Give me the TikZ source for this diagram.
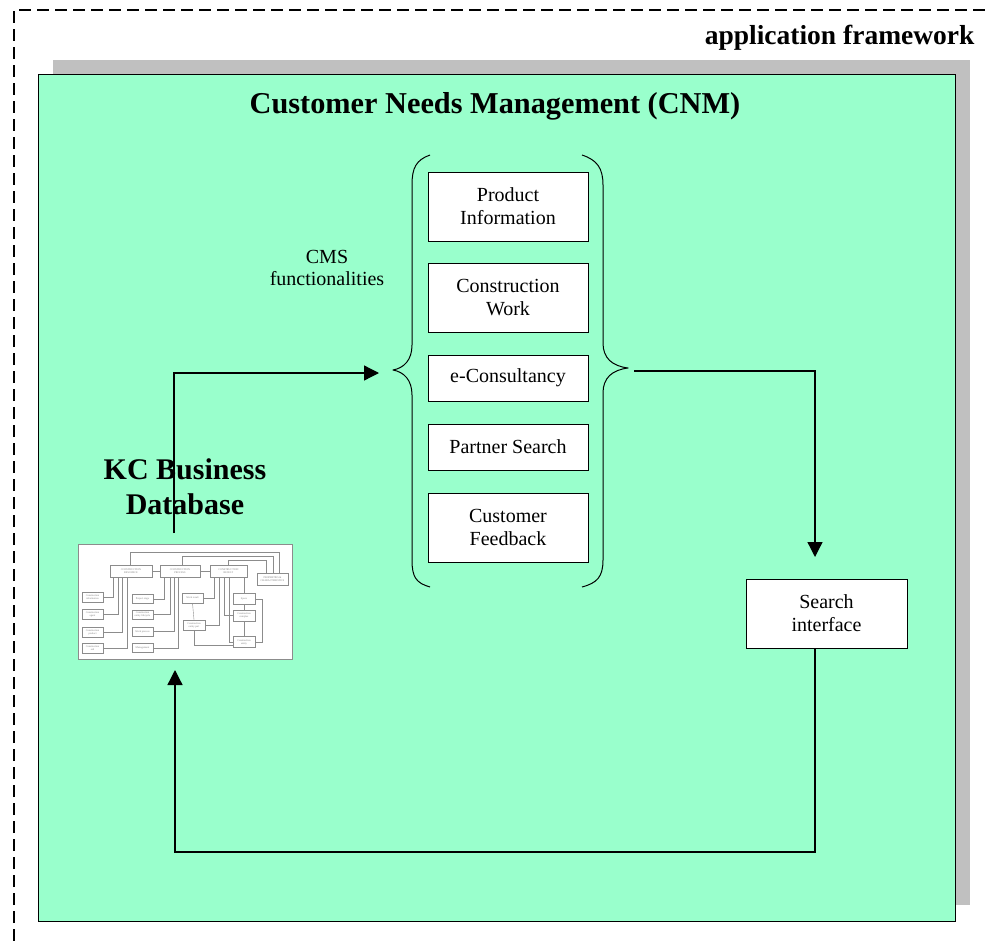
\documentclass[tikz,border=0pt]{standalone}
\usepackage{fontspec}
\setmainfont{Liberation Serif}
\usetikzlibrary{arrows.meta}
\definecolor{mint}{RGB}{153,255,204}
\definecolor{shadowgray}{RGB}{192,192,192}
\definecolor{thumbline}{RGB}{140,140,140}
\begin{document}
\begin{tikzpicture}[x=1pt,y=-1pt,
  func/.style={draw=black, fill=white, line width=0.8pt, minimum width=160pt,
    inner sep=0pt, align=center, font=\fontsize{20}{23}\selectfont},
  conn/.style={line width=1.3pt, -{Triangle[length=15pt,width=15pt]}},
  bracepath/.style={line width=1pt, line join=round},
  tb/.style={draw=thumbline, line width=0.4pt, fill=white, inner sep=0pt,
    align=center, text=gray, font=\fontsize{2.6}{3}\selectfont},
  tl/.style={draw=thumbline, line width=0.4pt},
]
\useasboundingbox (0,0) rectangle (990,941);
\fill[white] (0,0) rectangle (990,941);

% outer application framework (open dashed frame)
\draw[line width=1.2pt, dash pattern=on 12pt off 6pt] (14,941) -- (14,10) -- (990,10);
\node[anchor=base east, font=\bfseries\fontsize{27.5}{30}\selectfont] (appfw) at (978,45) {application framework};

% CNM panel with shadow
\fill[shadowgray] (53,60) rectangle (970,905);
\draw[fill=mint, line width=1pt] (38,75) rectangle (955,921);
\node[anchor=base, font=\bfseries\fontsize{30.3}{34}\selectfont] (title) at (495,114) {Customer Needs Management (CNM)};

% CMS functionality boxes
\node[func, minimum height=69pt] (prod) at (508,206.5) {Product\\Information};
\node[func, minimum height=69pt] (work) at (508,297.5) {Construction\\Work};
\node[func, minimum height=46pt] (econ) at (508,378) {e-Consultancy};
\node[func, minimum height=46pt] (partner) at (508,447) {Partner Search};
\node[func, minimum height=69pt] (feedback) at (508,527.5) {Customer\\Feedback};

\node[align=center, font=\fontsize{20}{22}\selectfont] (cms) at (327,268) {CMS\\functionalities};

% braces
\coordinate (lbtipc) at (393,370);
\coordinate (rbtipc) at (628,368);
\draw[bracepath] (430,155) .. controls (416,160) and (412,168) .. (412,185)
  -- (412,345) .. controls (412,360) and (404,368) .. (lbtipc)
  .. controls (404,372) and (412,380) .. (412,395)
  -- (412,560) .. controls (412,577) and (416,583) .. (430,587);
\draw[bracepath] (582,155) .. controls (597,160) and (603,168) .. (603,185)
  -- (603,343) .. controls (603,358) and (612,366) .. (rbtipc)
  .. controls (612,370) and (603,378) .. (603,393)
  -- (603,560) .. controls (603,577) and (597,583) .. (582,587);

% search interface
\node[func, minimum width=161pt, minimum height=69pt] (search) at (826.5,613.5) {Search\\interface};

% KC business database label
\node[align=center, font=\bfseries\fontsize{30}{35}\selectfont] (kcdb) at (185,487) {KC Business\\Database};

% thumbnail of the database model
\node[draw=thumbline, fill=white, line width=0.8pt, minimum width=214pt, minimum height=115pt, inner sep=0pt] (thumb) at (185,601.5) {};
% top connector lines to properties box
\draw[tl] (130,565) -- (130,552) -- (279,552) -- (279,573);
\draw[tl] (182,565) -- (182,556) -- (273,556) -- (273,573);
\draw[tl] (228,565) -- (228,560) -- (266,560) -- (266,573);
\node[tb, minimum width=42pt, minimum height=12pt] (r1) at (131,571) {CONSTRUCTION\\RESOURCE};
\node[tb, minimum width=40pt, minimum height=12pt] (r2) at (180,571) {CONSTRUCTION\\PROCESS};
\node[tb, minimum width=37pt, minimum height=12pt] (r3) at (228.5,571) {CONSTRUCTION\\RESULT};
\node[tb, minimum width=31pt, minimum height=12pt] (pc) at (272.5,579) {PROPERTIES \&\\CHARACTERISTICS};
\draw[tl] (r1) -- (r2);
\draw[tl] (r2) -- (r3);
% left column
\node[tb, minimum width=21pt, minimum height=10pt] (c1) at (92.5,597) {Construction\\information};
\node[tb, minimum width=21pt, minimum height=10pt] (c2) at (92.5,614.5) {Construction\\agent};
\node[tb, minimum width=21pt, minimum height=10pt] (c3) at (92.5,632) {Construction\\product};
\node[tb, minimum width=21pt, minimum height=10pt] (c4) at (92.5,648.5) {Construction\\aid};
\draw[tl] (c1.east) -| (113,577);
\draw[tl] (c2.east) -| (118,577);
\draw[tl] (c3.east) -| (122,577);
\draw[tl] (c4.east) -| (127,577);
% second column
\node[tb, minimum width=21pt, minimum height=9pt] (p1) at (142.5,599) {Project stage};
\node[tb, minimum width=21pt, minimum height=9pt] (p2) at (142.5,614.5) {Construction\\entity lifecycle};
\node[tb, minimum width=21pt, minimum height=9pt] (p3) at (142.5,631.5) {Work process};
\node[tb, minimum width=21pt, minimum height=9pt] (p4) at (142.5,648) {Management};
\draw[tl] (p1.east) -| (164,577);
\draw[tl] (p2.east) -| (170,577);
\draw[tl] (p3.east) -| (174,577);
\draw[tl] (p4.east) -| (178,577);
% third column
\node[tb, minimum width=21pt, minimum height=10pt] (w1) at (192.5,598) {Work result};
\node[tb, minimum width=22pt, minimum height=10pt] (w2) at (194,625) {Construction\\entity part};
\draw[tl] (w1.east) -| (214,577);
\draw[tl] (w2.east) -| (219,577);
\draw[tl] (w2.north) -- (w1.south);
% fourth column
\node[tb, minimum width=22pt, minimum height=11pt] (s1) at (244,599) {Space};
\node[tb, minimum width=22pt, minimum height=11pt] (s2) at (244,615.5) {Construction\\complex};
\node[tb, minimum width=22pt, minimum height=11pt] (s3) at (244,642) {Construction\\entity};
\draw[tl] (s1.north) -- (244,577);
\draw[tl] (s2.north) -- (s1.south);
\draw[tl] (s2.south) -- (s3.north);
\draw[tl] (s2.west) -| (224,577);
\draw[tl] (s3.west) -| (229,577);
\draw[tl] (s3.south west) ++(0,-3) -| (w2.south);
\draw[tl] (s3.east) -| (262,599) -- (s1.east);

% connectors
\coordinate (dbtop) at (174,533);
\coordinate (lbtip) at (379,373);
\draw[conn] (dbtop) |- (lbtip);

\coordinate (rbstart) at (634,371);
\coordinate (sarrow) at (815,557);
\draw[conn] (rbstart) -| (sarrow);

\coordinate (loopL) at (175,852);
\coordinate (dbin) at (175,670);
\draw[conn] (search.south -| sarrow) |- (loopL) -- (dbin);
\end{tikzpicture}
\end{document}
